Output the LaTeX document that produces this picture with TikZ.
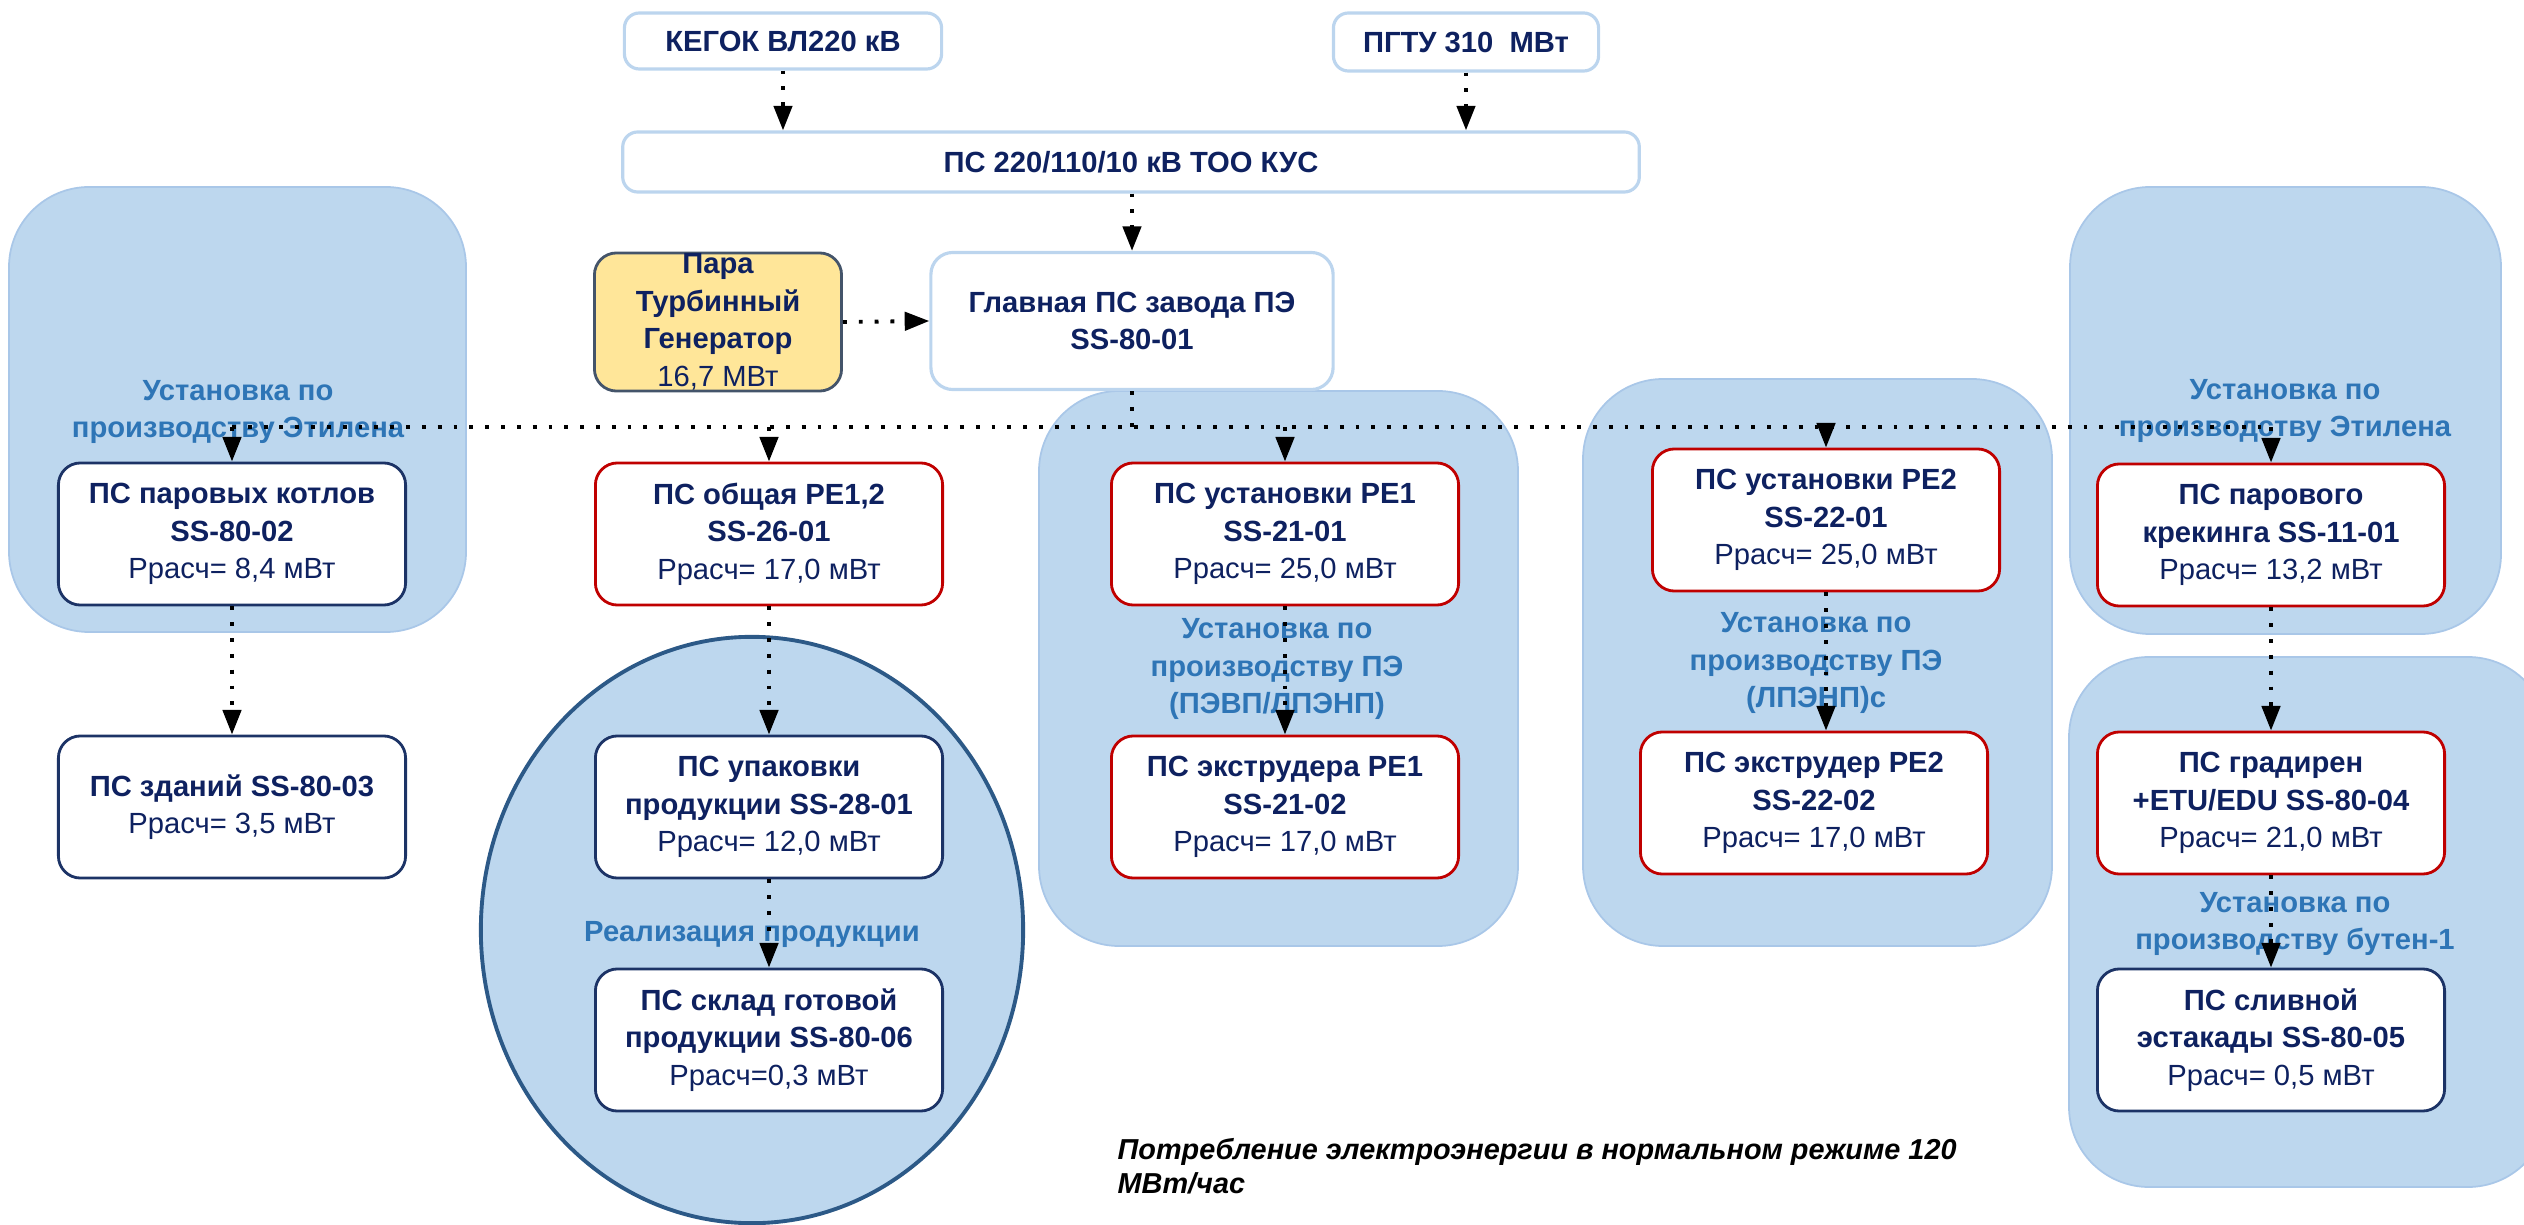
\documentclass[tikz,border=0pt]{standalone}
\usepackage{fontspec}
\setmainfont{Liberation Sans}
\usetikzlibrary{arrows.meta}

\definecolor{navytext}{HTML}{0E2160}
\definecolor{navyline}{HTML}{1C3366}
\definecolor{redline}{HTML}{C00000}
\definecolor{groupfill}{HTML}{BDD7EE}
\definecolor{groupline}{HTML}{A9C7E8}
\definecolor{labelblue}{HTML}{2E75B6}
\definecolor{topline}{HTML}{BCD5EE}
\definecolor{parafill}{HTML}{FFE699}
\definecolor{paraline}{HTML}{44546A}
\definecolor{ovalline}{HTML}{2C5987}

\begin{document}
\begin{tikzpicture}[x = 0.01cm, y = -0.01cm,
    box/.style = {draw, fill = white, rounded corners = 0.22cm, line width = 0.8pt, text = navytext, align = center, inner sep = 0pt, minimum width = 3.47cm, minimum height = 1.42cm, font = \fontsize{8.3}{10.7}\selectfont\bfseries},
    navybox/.style = {box, draw = navyline},
    redbox/.style = {box, draw = redline},
    topbox/.style = {box, draw = topline, line width = 0.9pt, rounded corners = 0.15cm},
    group/.style = {fill = groupfill, draw = groupline, line width = 0.5pt, rounded corners = 0.8cm},
    caption/.style = {text = labelblue, align = center, font = \fontsize{8.3}{10.7}\selectfont\bfseries},
    wire/.style = {line width = 1.1pt, dash pattern = on 1.1pt off 3.4pt},
    link/.style = {wire, -{Triangle[length = 7pt, width = 5.2pt]}}]

    \useasboundingbox (0, 0) rectangle (2524, 1225);
    \clip (0, 0) rectangle (2524, 1225);

    \draw[group] (9, 187) rectangle (466, 632);
    \draw[group] (1039, 391) rectangle (1518, 946);
    \draw[group] (1583, 379) rectangle (2052, 946);
    \draw[group] (2070, 187) rectangle (2501, 634);
    \draw[group] (2069, 657) rectangle (2548, 1187);
    \draw[fill = groupfill, draw = ovalline, line width = 1.1pt] (752, 930) ellipse [x radius = 2.71cm, y radius = 2.93cm];

    \node[caption] (etil1) at (238, 412) {Установка по\\производству Этилена};
    \node[caption] (etil2) at (2285, 411) {Установка по\\производству Этилена};
    \node[caption] (pe1lab) at (1277, 669) {Установка по\\производству ПЭ\\(ПЭВП/ЛПЭНП)};
    \node[caption] (pe2lab) at (1816, 663) {Установка по\\производству ПЭ\\(ЛПЭНП)с};
    \node[caption] (butlab) at (2295, 924) {Установка по\\производству бутен-1};
    \node[caption] (reallab) at (752, 934) {Реализация продукции};

    \node[topbox, minimum width = 3.17cm, minimum height = 0.56cm] (kegok) at (783, 41) {КЕГОК ВЛ220 кВ};
    \node[topbox, minimum width = 2.65cm, minimum height = 0.58cm] (pgtu) at (1466, 42) {ПГТУ 310\ \ МВт};
    \node[topbox, minimum width = 10.16cm, minimum height = 0.6cm] (kus) at (1131, 162) {ПС 220/110/10 кВ ТОО КУС};
    \node[topbox, rounded corners = 0.22cm, minimum width = 4.02cm, minimum height = 1.37cm] (glav) at (1132, 321) {Главная ПС завода ПЭ\\SS-80-01};
    \node[box, draw = paraline, fill = parafill, minimum width = 2.47cm, minimum height = 1.38cm] (para) at (718, 322) {Пара\\Турбинный\\Генератор\\\mdseries 16,7 МВт};

    \node[navybox] (kotly) at (232, 534) {ПС паровых котлов\\SS-80-02\\\mdseries Ррасч= 8,4 мВт};
    \node[navybox] (zdan) at (232, 807) {ПС зданий SS-80-03\\\mdseries Ррасч= 3,5 мВт};
    \node[redbox] (obsh) at (769, 534) {ПС общая PE1,2\\SS-26-01\\\mdseries Ррасч= 17,0 мВт};
    \node[navybox] (upak) at (769, 807) {ПС упаковки\\продукции SS-28-01\\\mdseries Ррасч= 12,0 мВт};
    \node[navybox] (sklad) at (769, 1040) {ПС склад готовой\\продукции SS-80-06\\\mdseries Ррасч=0,3 мВт};
    \node[redbox] (pe1) at (1285, 534) {ПС установки PE1\\SS-21-01\\\mdseries Ррасч= 25,0 мВт};
    \node[redbox] (ex1) at (1285, 807) {ПС экструдера PE1\\SS-21-02\\\mdseries Ррасч= 17,0 мВт};
    \node[redbox] (pe2) at (1826, 520) {ПС установки PE2\\SS-22-01\\\mdseries Ррасч= 25,0 мВт};
    \node[redbox] (ex2) at (1814, 803) {ПС экструдер PE2\\SS-22-02\\\mdseries Ррасч= 17,0 мВт};
    \node[redbox] (krek) at (2271, 535) {ПС парового\\крекинга SS-11-01\\\mdseries Ррасч= 13,2 мВт};
    \node[redbox] (grad) at (2271, 803) {ПС градирен\\+ETU/EDU SS-80-04\\\mdseries Ррасч= 21,0 мВт};
    \node[navybox] (sliv) at (2271, 1040) {ПС сливной\\эстакады SS-80-05\\\mdseries Ррасч= 0,5 мВт};

    \node[anchor = west, align = left, inner sep = 0pt, font = \fontsize{8.2}{9.7}\selectfont\bfseries\itshape] (note) at (1117, 1166) {Потребление электроэнергии в нормальном режиме 120\\МВт/час};

    \coordinate (bus) at (0, 427);
    \draw[link] (kegok.south) -- (kegok.south |- kus.north);
    \draw[link] (pgtu.south) -- (pgtu.south |- kus.north);
    \draw[link] (glav.north |- kus.south) -- (glav.north);
    \draw[link] (para.east) -- (glav.west);
    \draw[wire] (glav.south) -- (glav.south |- bus);
    \draw[wire] (kotly.north |- bus) -- (krek.north |- bus);
    \foreach \n in {kotly, obsh, pe1, pe2, krek}
        \draw[link] (\n.north |- bus) -- (\n.north);
    \draw[link] (kotly) -- (zdan);
    \draw[link] (obsh) -- (upak);
    \draw[link] (upak) -- (sklad);
    \draw[link] (pe1) -- (ex1);
    \draw[link] (pe2.south) -- (pe2.south |- ex2.north);
    \draw[link] (krek) -- (grad);
    \draw[link] (grad) -- (sliv);
\end{tikzpicture}
\end{document}
